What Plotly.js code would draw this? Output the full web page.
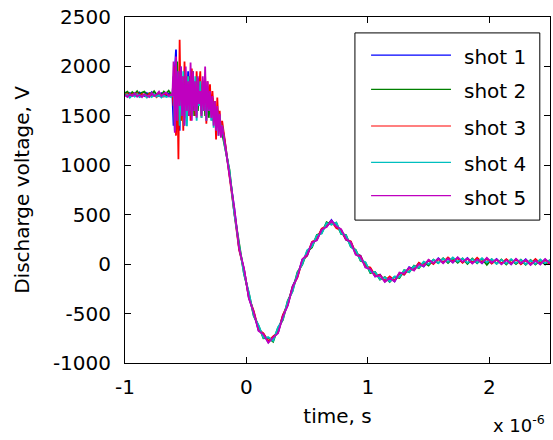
<!DOCTYPE html>
<html>
<head>
<meta charset="utf-8">
<script src="https://cdn.plot.ly/plotly-3.0.1.min.js"></script>
<style>html,body{margin:0;padding:0;background:#fff;}#chart{width:553px;height:440px;}</style>
</head>
<body>
<div id="chart"></div>
<script>
// time axis in microseconds
const timeUs = [
  -1, -0.98, -0.96, -0.94, -0.92, -0.9, -0.88, -0.86, -0.84, -0.82, -0.8, -0.78, -0.76, -0.74, -0.72, -0.7, -0.68, -0.66, -0.64, -0.62,
  -0.61, -0.6, -0.59, -0.58, -0.57, -0.56, -0.55, -0.54, -0.53, -0.52, -0.51, -0.5, -0.49, -0.48, -0.47, -0.46, -0.45, -0.44, -0.43, -0.42, -0.41,
  -0.4, -0.39, -0.38, -0.37, -0.36, -0.35, -0.34, -0.33, -0.32, -0.31, -0.3, -0.29, -0.28, -0.27, -0.26, -0.25, -0.24, -0.23, -0.22, -0.21, -0.2,
  -0.18, -0.14, -0.1, -0.06, -0.02, 0.02, 0.06, 0.1, 0.14, 0.18, 0.22, 0.26, 0.3, 0.34, 0.38, 0.42, 0.46, 0.5, 0.54, 0.58, 0.62, 0.66, 0.7, 0.74,
  0.78, 0.82, 0.86, 0.9, 0.94, 0.98, 1.02, 1.06, 1.1, 1.14, 1.18, 1.22, 1.26, 1.3, 1.34, 1.38, 1.42, 1.46, 1.5, 1.54, 1.58, 1.62, 1.66, 1.7, 1.74,
  1.78, 1.82, 1.86, 1.9, 1.94, 1.98, 2.02, 2.06, 2.1, 2.14, 2.18, 2.22, 2.26, 2.3, 2.34, 2.38, 2.42, 2.46, 2.5
];

const shot1 = [
  1720,1700,1730,1710,1725,1700,1735,1715,1700,1730,1710,1740,1705,1720,1700,1730,1715,1700,1725,1710,
  1720,1400,1950,2170,1500,1880,1350,2000,1600,1900,1480,1850,1550,1950,1600,1880,1520,1900,1620,1850,1560,
  1880,1640,1800,1560,1820,1600,1760,1540,1800,1580,1720,1520,1680,1480,1620,1420,1560,1380,1480,1330,1390,
  1260,910,565,155,-50,-340,-485,-670,-705,-790,-735,-695,-520,-415,-225,-125,45,85,215,245,355,380,445,375,
  345,245,225,105,85,-30,-45,-125,-105,-175,-135,-175,-95,-105,-30,-55,10,-25,40,5,60,15,62,17,65,
  18,63,11,54,10,58,10,53,3,46,0,50,4,49,-3,42,2,47,2
];
const shot2 = [
  1730,1745,1710,1740,1720,1750,1715,1735,1745,1710,1730,1720,1750,1715,1735,1710,1745,1725,1755,1720,
  1700,1900,1450,1750,2050,1550,1900,1450,1850,1650,1950,1500,1800,1600,1900,1550,1750,1950,1500,1700,1880,
  1550,1750,1850,1520,1720,1800,1500,1700,1760,1480,1650,1700,1450,1600,1580,1400,1550,1480,1350,1420,1320,
  1200,955,520,200,-100,-295,-525,-625,-750,-745,-785,-645,-565,-370,-270,-80,-5,130,170,295,315,425,400,420,
  305,295,175,145,35,15,-90,-80,-155,-130,-180,-130,-140,-60,-80,-15,-40,20,-15,45,10,60,12,62,15,
  58,3,56,9,55,-7,50,3,48,-4,45,0,44,-6,42,-3,42,-3,42
];
const shot3 = [
  1705,1725,1690,1720,1700,1730,1695,1720,1710,1690,1725,1700,1715,1690,1720,1705,1695,1725,1700,1715,
  1730,1600,2000,1300,1850,1062,2270,1450,1900,1350,2050,1600,1900,1500,1850,1450,1980,1620,1800,1500,1950,
  1600,1780,1950,1480,1850,1650,1900,1420,1850,1600,1820,1500,1750,1550,1650,1260,1685,1400,1550,1300,1450,
  1270,900,555,145,-55,-335,-475,-660,-700,-780,-730,-690,-515,-410,-230,-135,35,90,225,255,360,385,435,365,
  340,250,230,110,80,-20,-35,-115,-110,-170,-125,-165,-95,-105,-40,-60,15,-15,40,0,50,20,67,27,60,
  13,53,16,64,20,53,5,43,8,51,10,45,-1,39,2,52,7,42,-3
];
const shot4 = [
  1700,1715,1685,1710,1695,1720,1690,1700,1715,1685,1705,1690,1720,1695,1710,1685,1705,1690,1700,1690,
  1710,1850,1350,2000,1600,1950,1400,1850,1500,1950,1400,1800,1395,1900,1550,1850,1500,1800,1600,1900,1450,
  1750,1600,1850,1480,1700,1550,1800,1450,1700,1550,1680,1450,1650,1380,1600,1450,1550,1300,1500,1350,1400,
  1210,945,510,190,-95,-290,-520,-620,-745,-740,-775,-640,-560,-375,-275,-90,0,140,180,290,310,415,400,420,
  310,290,175,140,40,20,-80,-80,-155,-135,-175,-125,-130,-60,-80,-20,-35,25,0,45,10,55,22,67,25,
  58,13,51,14,60,18,50,3,43,6,50,10,44,-1,37,2,47,7,42
];
const shot5 = [
  1710,1690,1720,1700,1730,1695,1715,1690,1720,1705,1690,1730,1700,1715,1745,1700,1725,1735,1700,1715,
  1700,2050,1330,2100,1450,1950,1600,2000,1500,1900,1400,2000,1550,1850,1500,2040,1450,1950,1550,1850,1480,
  1900,1620,1750,1500,1900,1550,2000,1450,1850,1550,1750,1480,1700,1400,1650,1350,1600,1300,1520,1280,1400,
  1250,905,570,160,-45,-345,-490,-675,-710,-795,-740,-700,-530,-420,-235,-130,50,95,220,240,350,375,440,380,
  355,255,220,95,75,-35,-50,-125,-115,-180,-140,-175,-85,-95,-35,-65,0,-20,45,10,55,10,57,17,70,
  23,58,6,49,10,63,15,48,-2,41,0,55,9,44,-8,37,-3,52,7
];

const shotNames = ['shot 1', 'shot 2', 'shot 3', 'shot 4', 'shot 5'];
const shotValues = [shot1, shot2, shot3, shot4, shot5];
const shotColors = ['#0000ff', '#008000', '#ff0000', '#00bfbf', '#bf00bf'];

const xTickVals = [-1e-6, 0, 1e-6, 2e-6];
const xTickText = ['-1', '0', '1', '2'];
const yTickVals = [-1000, -500, 0, 500, 1000, 1500, 2000, 2500];
const yTickText = ['-1000', '-500', '0', '500', '1000', '1500', '2000', '2500'];

const FONT = 'DejaVu Sans, Arial, sans-serif';
const timeS = timeUs.map(t => t * 1e-6);

const traces = shotValues.map((vals, i) => ({
  x: timeS, y: vals, type: 'scatter', mode: 'lines', name: shotNames[i],
  line: {color: shotColors[i], width: 1.8}, showlegend: false, hoverinfo: 'skip'
}));

// manual MATLAB-style legend box
const legX0 = 0.541, legX1 = 0.976, legY0 = 0.413, legY1 = 0.954;
const rowY = [0.890, 0.791, 0.685, 0.580, 0.484];
const shapes = [{
  type: 'rect', xref: 'paper', yref: 'paper', x0: legX0, x1: legX1, y0: legY0, y1: legY1,
  line: {color: '#000', width: 1}, fillcolor: '#fff', layer: 'above'
}];
const annotations = [];
shotNames.forEach((n, i) => {
  shapes.push({type: 'line', xref: 'paper', yref: 'paper', x0: 0.579, x1: 0.767, y0: rowY[i], y1: rowY[i],
    line: {color: shotColors[i], width: 1.2}, layer: 'above'});
  annotations.push({xref: 'paper', yref: 'paper', x: 0.792, y: rowY[i] - 0.006, xanchor: 'left', yanchor: 'middle',
    text: n, showarrow: false, font: {family: FONT, size: 20, color: '#000'}});
});
annotations.push({xref: 'paper', yref: 'paper', x: 0.862, y: -0.176, xanchor: 'left', yanchor: 'middle',
  text: 'x 10<sup>-6</sup>', showarrow: false, font: {family: FONT, size: 18, color: '#000'}});

const layout = {
  width: 553, height: 440,
  margin: {l: 125, r: 3, t: 17, b: 77, pad: 0},
  paper_bgcolor: '#fff', plot_bgcolor: '#fff',
  font: {family: FONT, size: 20, color: '#000'},
  showlegend: false,
  xaxis: {
    range: [-1e-6, 2.5e-6], tickmode: 'array', tickvals: xTickVals, ticktext: xTickText,
    showline: true, linecolor: '#000', linewidth: 1, mirror: 'ticks',
    ticks: 'inside', ticklen: 6, tickcolor: '#000', tickwidth: 1,
    showgrid: false, zeroline: false, ticklabelstandoff: 6,
    tickfont: {family: FONT, size: 20, color: '#000'},
    title: {text: 'time, s', font: {family: FONT, size: 20, color: '#000'}, standoff: 10}
  },
  yaxis: {
    range: [-1000, 2500], tickmode: 'array', tickvals: yTickVals, ticktext: yTickText,
    showline: true, linecolor: '#000', linewidth: 1, mirror: 'ticks',
    ticks: 'inside', ticklen: 6, tickcolor: '#000', tickwidth: 1,
    showgrid: false, zeroline: false, ticklabelstandoff: 9,
    tickfont: {family: FONT, size: 20, color: '#000'},
    title: {text: 'Discharge voltage, V', font: {family: FONT, size: 20, color: '#000'}, standoff: 17}
  },
  shapes: shapes,
  annotations: annotations
};

Plotly.newPlot('chart', traces, layout, {staticPlot: true, displayModeBar: false});
</script>
</body>
</html>
